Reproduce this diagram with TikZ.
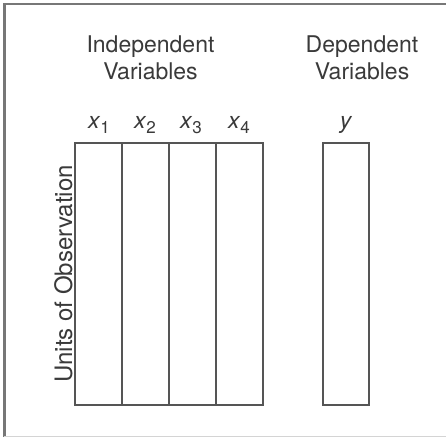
\documentclass[tikz,border=0pt]{standalone}
\usepackage{fontspec}
\setmainfont{TeX Gyre Heros}
\definecolor{ln}{HTML}{555555}
\definecolor{tx}{HTML}{3A3A3A}
\begin{document}
\begin{tikzpicture}[x=1pt,y=-1pt,
  col/.style={draw=ln,line width=1.4pt,minimum width=47pt,minimum height=262pt,inner sep=0pt,outer sep=0pt},
  lab/.style={text=tx,font=\fontsize{23}{27}\selectfont,align=center,inner sep=0pt},
  var/.style={text=tx,font=\fontsize{23}{27}\selectfont,inner sep=0pt,anchor=base}]
\useasboundingbox (0,0) rectangle (446,437);
\fill[white] (0,0) rectangle (446,437);
% frame
\draw[color=ln!80,line width=3pt] (4,3) -- (4,437);
\draw[color=ln!80,line width=2pt] (3,4) -- (446,4);
\draw[color=ln!25,line width=1pt] (4,436) -- (446,436);
% headers
\node[lab] (ind) at (150.5,58) {Independent\\Variables};
\node[lab] (dep) at (362,58) {Dependent\\Variables};
% columns
\node[col] (c1) at (98.5,274) {};
\node[col] (c2) at (145.5,274) {};
\node[col] (c3) at (192.5,274) {};
\node[col] (c4) at (239.5,274) {};
\node[col,minimum width=46pt] (cy) at (346,274) {};
% variable labels
\newcommand{\vsub}[1]{\textit{x}\raisebox{-0.25em}{\fontsize{17}{17}\selectfont #1}}
\node[var] (x1) at (99,128) {\vsub{1}};
\node[var] (x2) at (145,128) {\vsub{2}};
\node[var] (x3) at (191,128) {\vsub{3}};
\node[var] (x4) at (239,128) {\vsub{4}};
\node[var] (yv) at (346,128) {\textit{y}};
% side label
\node[lab,rotate=90,font=\fontsize{24}{28}\selectfont,anchor=base] (uo) at (72,274) {Units of Observation};
\end{tikzpicture}
\end{document}
